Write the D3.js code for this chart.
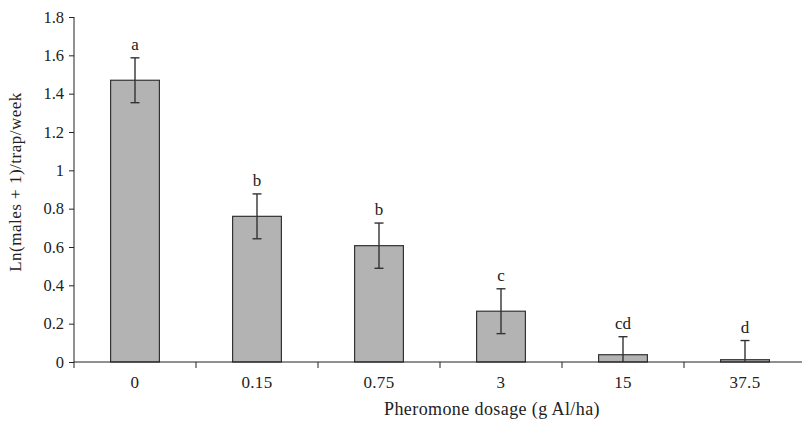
<!DOCTYPE html>
<head>
  <meta charset="utf-8">
  <script src="https://d3js.org/d3.v7.min.js"></script>
  <style>
    body { margin:0; background:#fff; }
    text { font-family: "Liberation Serif", "DejaVu Serif", serif; fill:#222; }
  </style>
</head>
<body>
<svg width="802" height="423"></svg>
<script>

const dosages = ["0", "0.15", "0.75", "3", "15", "37.5"],
      means   = [1.47, 0.76, 0.607, 0.265, 0.038, 0.012],
      errs    = [0.117, 0.117, 0.118, 0.117, 0.094, 0.1],
      letters = ["a", "b", "b", "c", "cd", "d"],
      yTicks  = [0, 0.2, 0.4, 0.6, 0.8, 1, 1.2, 1.4, 1.6, 1.8]

const data = dosages.map((d, i) => ({dose: d, v: means[i], e: errs[i], l: letters[i]}))

const svg = d3.select("svg"),
      padL = 74, baseY = 362, topY = 17

const x = d3.scaleBand().domain(dosages).range([padL, padL + 122 * 6]).paddingInner(0.6).paddingOuter(0.3)
const y = d3.scaleLinear().domain([0, 1.8]).range([baseY, topY])

// y axis
const yAxis = svg.append("g").attr("transform", `translate(${padL},0)`)
  .call(d3.axisLeft(y).tickValues(yTicks).tickSize(5).tickPadding(5).tickFormat(d3.format("~g")))
yAxis.select(".domain").attr("stroke", "#222").attr("d", `M0,${topY}V${baseY}`)
yAxis.selectAll(".tick line").attr("stroke", "#222")
yAxis.selectAll("text").style("font-size", "16.5px")

// bars
svg.append("g").selectAll("rect")
  .data(data)
  .enter().append("rect")
    .attr("x", d => x(d.dose))
    .attr("width", x.bandwidth())
    .attr("y", d => y(d.v))
    .attr("height", d => baseY - y(d.v))
    .attr("fill", "#b3b3b3")
    .attr("stroke", "#333")
    .attr("stroke-width", 1.2)

// x axis (ticks between categories)
const step = x.step()
const xg = svg.append("g")
xg.append("line").attr("x1", padL).attr("x2", 802).attr("y1", baseY).attr("y2", baseY)
  .attr("stroke", "#222").attr("stroke-width", 1.2)
xg.selectAll(".sep")
  .data(dosages.slice(1))
  .enter().append("line")
    .attr("x1", d => x(d) - (step - x.bandwidth()) / 2)
    .attr("x2", d => x(d) - (step - x.bandwidth()) / 2)
    .attr("y1", baseY).attr("y2", baseY + 6)
    .attr("stroke", "#222")
xg.append("line").attr("x1", padL).attr("x2", padL).attr("y1", baseY).attr("y2", baseY + 6).attr("stroke", "#222")
xg.selectAll(".lab")
  .data(dosages)
  .enter().append("text")
    .attr("x", d => x(d) + x.bandwidth() / 2)
    .attr("y", 388)
    .attr("text-anchor", "middle")
    .style("font-size", "17px")
    .style("letter-spacing", "0.3px")
    .text(d => d)

// error bars
const eb = svg.append("g").attr("stroke", "#333").attr("stroke-width", 1.4)
data.forEach(d => {
  const cx = x(d.dose) + x.bandwidth() / 2,
        lo = Math.max(0, d.v - d.e), hi = d.v + d.e
  eb.append("line").attr("x1", cx).attr("x2", cx).attr("y1", y(lo)).attr("y2", y(hi))
  eb.append("line").attr("x1", cx - 4.5).attr("x2", cx + 4.5).attr("y1", y(hi)).attr("y2", y(hi))
  if (d.v - d.e > 0)
    eb.append("line").attr("x1", cx - 4.5).attr("x2", cx + 4.5).attr("y1", y(lo)).attr("y2", y(lo))
})

// letters
svg.selectAll(".let")
  .data(data)
  .enter().append("text")
    .attr("x", d => x(d.dose) + x.bandwidth() / 2)
    .attr("y", d => y(d.v + d.e) - 8)
    .attr("text-anchor", "middle")
    .style("font-size", "17px")
    .text(d => d.l)

// titles
svg.append("text")
  .attr("transform", "translate(21,182) rotate(-90)")
  .attr("text-anchor", "middle")
  .style("font-size", "17px")
  .style("letter-spacing", "0.5px")
  .text("Ln(males + 1)/trap/week")

svg.append("text")
  .attr("x", 492).attr("y", 415)
  .attr("text-anchor", "middle")
  .style("font-size", "18px")
  .style("letter-spacing", "0.4px")
  .text("Pheromone dosage (g Al/ha)")

</script>
</body>
